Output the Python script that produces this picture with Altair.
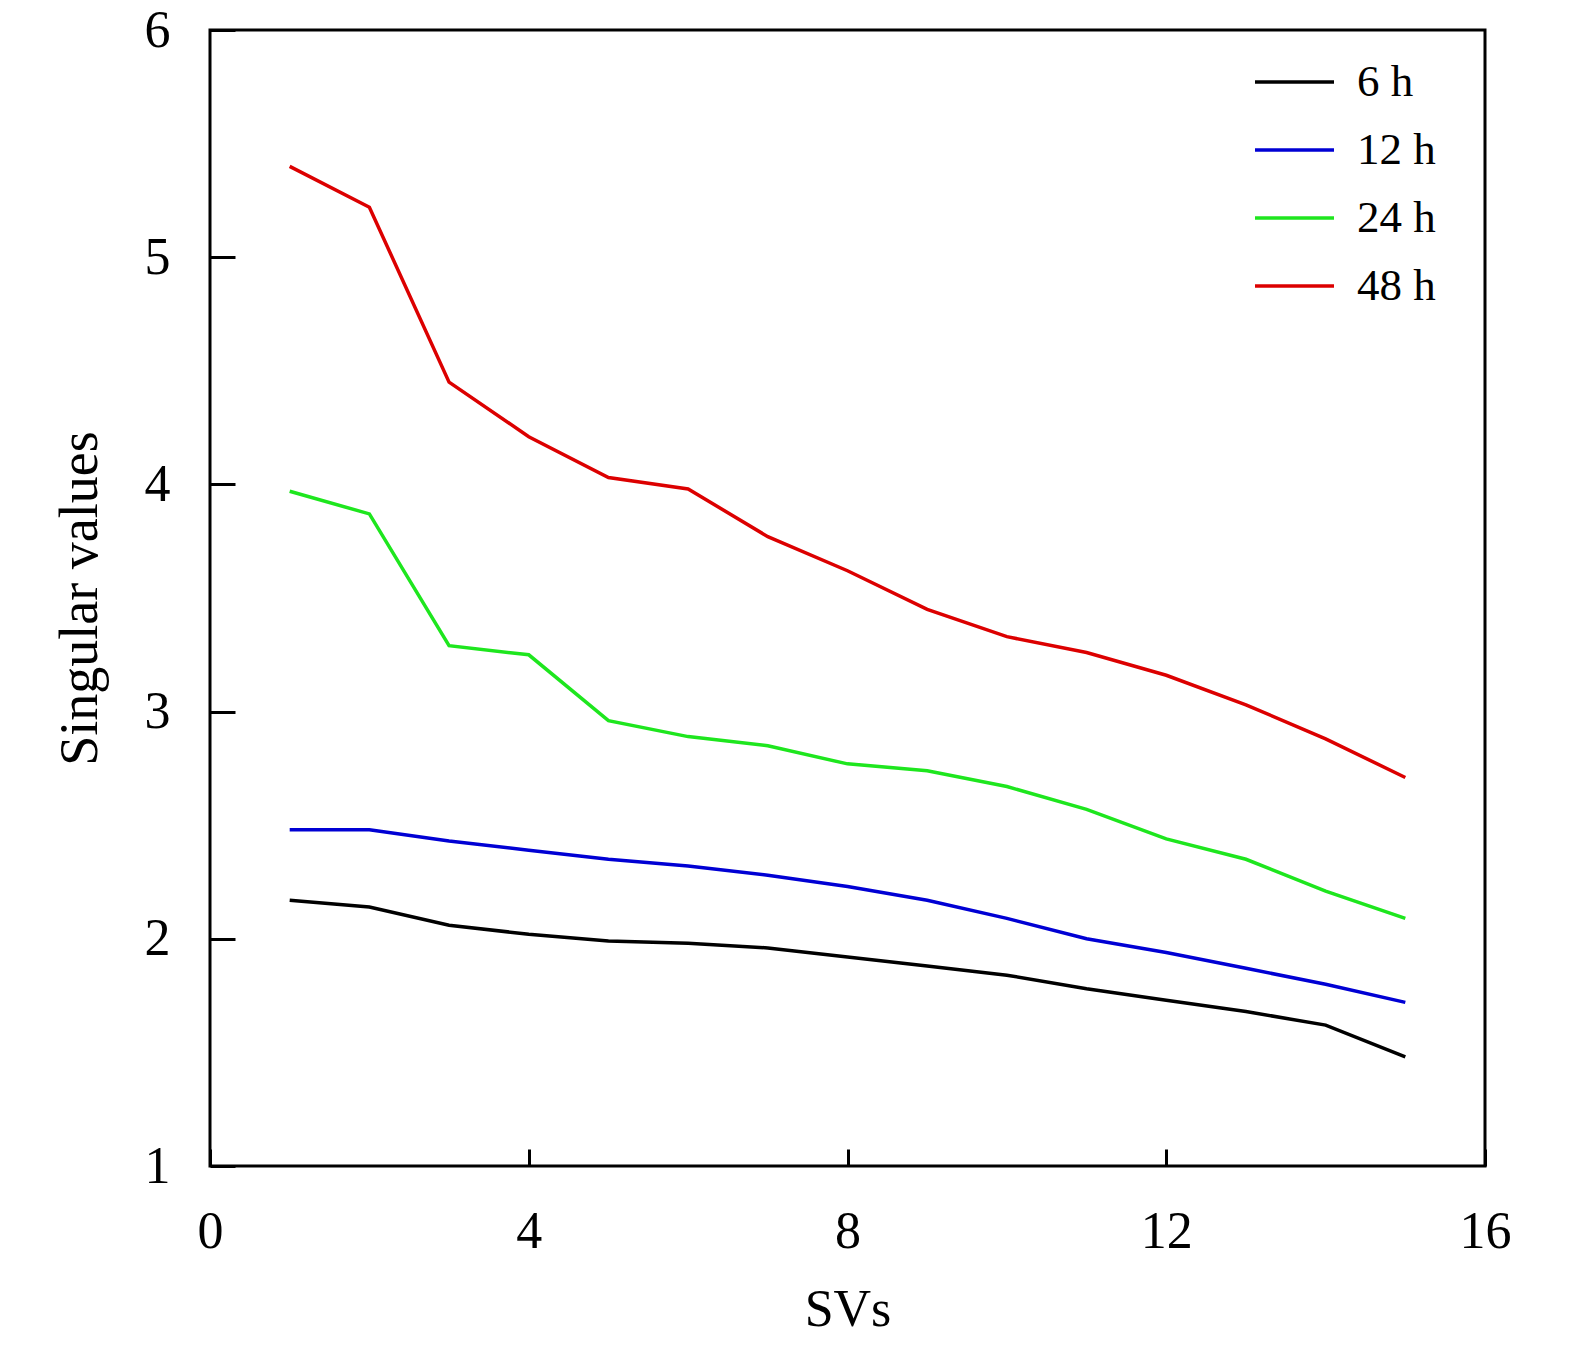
import altair as alt
import pandas as pd

sv_index = list(range(1, 16))
series_names = ["6 h", "12 h", "24 h", "48 h"]
h6 = [2.17, 2.14, 2.06, 2.02, 1.99, 1.98, 1.96, 1.92, 1.88, 1.84, 1.78, 1.73, 1.68, 1.62, 1.48]
h12 = [2.48, 2.48, 2.43, 2.39, 2.35, 2.32, 2.28, 2.23, 2.17, 2.09, 2.00, 1.94, 1.87, 1.80, 1.72]
h24 = [3.97, 3.87, 3.29, 3.25, 2.96, 2.89, 2.85, 2.77, 2.74, 2.67, 2.57, 2.44, 2.35, 2.21, 2.09]
h48 = [5.40, 5.22, 4.45, 4.21, 4.03, 3.98, 3.77, 3.62, 3.45, 3.33, 3.26, 3.16, 3.03, 2.88, 2.71]
colors = ["#000000", "#0000d4", "#1ee61e", "#dc0000"]
x_ticks = [0, 4, 8, 12, 16]
y_ticks = [1, 2, 3, 4, 5, 6]

rows = []
for name, vals in zip(series_names, [h6, h12, h24, h48]):
    for i, v in zip(sv_index, vals):
        rows.append({"SVs": i, "value": v, "series": name})
df = pd.DataFrame(rows)

FONT = "Liberation Serif"

chart = alt.Chart(df).mark_line(strokeWidth=3.5).encode(
    x=alt.X("SVs:Q",
            scale=alt.Scale(domain=[0, 16], nice=False, zero=False),
            axis=alt.Axis(title="SVs", values=x_ticks, grid=False, domain=False,
                          offset=-17, tickSize=17, tickWidth=3, tickColor="black",
                          labelFont=FONT, labelFontSize=52, labelColor="black",
                          labelPadding=40, titleFont=FONT, titleFontSize=52,
                          titleFontWeight="normal", titleColor="black",
                          titlePadding=27, labelFlush=False)),
    y=alt.Y("value:Q",
            scale=alt.Scale(domain=[1, 6], nice=False, zero=False),
            axis=alt.Axis(title="Singular values", values=y_ticks, grid=False, domain=False,
                          offset=-25, tickSize=25, tickWidth=3, tickColor="black",
                          labelFont=FONT, labelFontSize=52, labelColor="black",
                          labelPadding=40, titleFont=FONT, titleFontSize=54,
                          titleFontWeight="normal", titleColor="black",
                          titlePadding=37, labelFlush=False)),
    color=alt.Color("series:N",
                    scale=alt.Scale(domain=series_names, range=colors),
                    legend=alt.Legend(title=None, orient="none", legendX=1043, legendY=18,
                                      symbolType="stroke", symbolSize=6241,
                                      symbolStrokeWidth=3.5, clipHeight=68,
                                      rowPadding=0, padding=0, labelOffset=21,
                                      labelFont=FONT, labelFontSize=45,
                                      labelColor="black", labelLimit=400)),
).properties(
    width=1275, height=1136,
    autosize=alt.AutoSizeParams(type="none"),
    padding={"left": 202, "top": 22, "right": 60, "bottom": 172},
).configure_view(
    stroke="black", strokeWidth=3
)

chart.save("out.html", embed_options={"renderer": "svg", "actions": False})
